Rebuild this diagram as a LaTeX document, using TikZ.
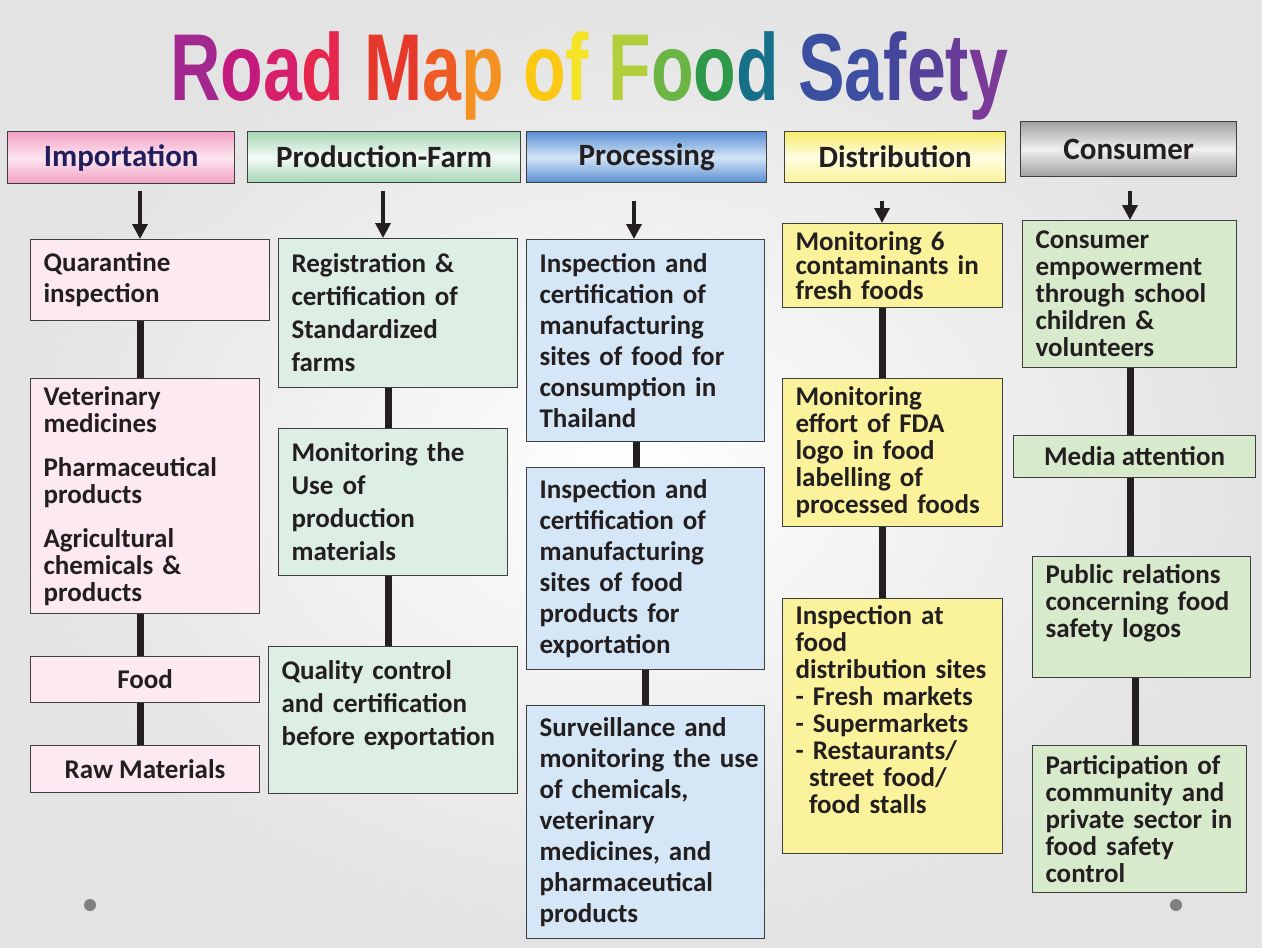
\documentclass[tikz,border=0pt]{standalone}
\usepackage{fontspec}
\usetikzlibrary{arrows.meta,positioning}
\newfontfamily\boxfont{Carlito}
\newfontfamily\titlefont{Liberation Sans}
\definecolor{ink}{HTML}{231F20}
\definecolor{navy}{HTML}{221E5C}
\definecolor{edge}{HTML}{3F3F3F}
\definecolor{pinkbox}{HTML}{FCE9F1}
\definecolor{farmbox}{HTML}{DDEFE4}
\definecolor{procbox}{HTML}{D5E6F6}
\definecolor{distbox}{HTML}{FBF39C}
\definecolor{consbox}{HTML}{D7EACB}
\definecolor{pinktop}{HTML}{F2A0C4}
\definecolor{pinkmid}{HTML}{FDE6F0}
\definecolor{farmtop}{HTML}{A5D6B5}
\definecolor{farmmid}{HTML}{F5FBF7}
\definecolor{proctop}{HTML}{5A8ED2}
\definecolor{procmid}{HTML}{D3E5F7}
\definecolor{disttop}{HTML}{F6ED6C}
\definecolor{distmid}{HTML}{FFFDE2}
\definecolor{constop}{HTML}{A0A0A0}
\definecolor{consmid}{HTML}{F0F0F0}
\definecolor{dotgray}{HTML}{808080}
\newcommand{\tl}[2]{\textcolor[HTML]{#1}{#2}}

\tikzset{
  head/.style={draw=edge, line width=1.4pt, anchor=north west, inner sep=0pt,
    font=\boxfont\bfseries\fontsize{31}{36}\selectfont, text=ink},
  stage/.style={draw=edge, line width=1.1pt, anchor=north west, inner xsep=0pt,
    inner ysep=0pt, align=left, text=ink, execute at begin node={\leftskip=13pt\relax}},
  tag/.style={draw=edge, line width=1.1pt, anchor=north west, inner sep=0pt,
    align=center, text=ink},
  lead24/.style={font=\boxfont\bfseries\fontsize{27}{24.5}\selectfont},
  lead27/.style={font=\boxfont\bfseries\fontsize{27}{27}\selectfont},
  lead31/.style={font=\boxfont\bfseries\fontsize{27}{31}\selectfont},
  lead33/.style={font=\boxfont\bfseries\fontsize{27}{33}\selectfont},
  link/.style={line width=7pt, draw=ink},
  feed/.style={line width=3.5pt, draw=ink, -{Triangle[length=15pt,width=15pt]}},
}

\begin{document}
\begin{tikzpicture}[x=1pt, y=-1pt]
\useasboundingbox (0,0) rectangle (1262,948);
\shade[inner color=white, outer color=gray!22] (0,0) rectangle (1262,948);

% title
\node[anchor=base, inner sep=0pt] (title) at (589,100) {\scalebox{0.735}[1]{\titlefont\bfseries\fontsize{95}{95}\selectfont
  \tl{A2278F}{R}\tl{C4197D}{o}\tl{D81F6B}{a}\tl{E6264F}{d} \tl{E7392B}{M}\tl{EE5B25}{a}\tl{F39222}{p}
  \tl{FBC914}{o}\tl{F4E425}{f} \tl{B2CE3B}{F}\tl{6CB545}{o}\tl{2E9A49}{o}\tl{17708A}{d}
  \tl{3B4FA1}{S}\tl{3E4EA0}{a}\tl{44469C}{f}\tl{55409A}{e}\tl{6A3C9A}{t}\tl{7B3A98}{y}}};

% column headers
\node[head, text=navy, minimum width=227, minimum height=52,
  top color=pinktop, bottom color=pinktop, middle color=pinkmid] (imp) at (7,131) {Importation};
\node[head, minimum width=273, minimum height=51,
  top color=farmtop, bottom color=farmtop, middle color=farmmid] (farm) at (247,131) {Production-Farm};
\node[head, minimum width=240, minimum height=51,
  top color=proctop, bottom color=proctop, middle color=procmid] (proc) at (526,131) {Processing};
\node[head, minimum width=221, minimum height=51,
  top color=disttop, bottom color=disttop!70!white, middle color=distmid] (dist) at (784,131) {Distribution};
\node[head, minimum width=216, minimum height=55,
  top color=constop, bottom color=constop, middle color=consmid] (cons) at (1020,121) {Consumer};

% column guides
\coordinate (ximp) at (140,0);
\coordinate (xfarm) at (388,0);
\coordinate (xfarmarrow) at (383,0);
\coordinate (xproc) at (636,0);
\coordinate (xprocb) at (645,0);
\coordinate (xprocarrow) at (634,0);
\coordinate (xdist) at (882,0);
\coordinate (xcons) at (1130,0);
\coordinate (xconsb) at (1135,0);

% importation
\node[stage, lead31, fill=pinkbox, text width=239, minimum height=81] (imp1) at (30,239)
  {Quarantine\\inspection};
\node[stage, lead27, fill=pinkbox, text width=229, minimum height=235] (imp2) at (30,378)
  {Veterinary\\medicines\\[17pt]Pharmaceutical\\products\\[17pt]Agricultural\\chemicals \&\\products};
\node[tag, lead31, fill=pinkbox, minimum width=229, minimum height=46] (imp3) at (30,656)
  {Food};
\node[tag, lead31, fill=pinkbox, minimum width=229, minimum height=47] (imp4) at (30,745)
  {Raw Materials};

% production-farm
\node[stage, lead33, fill=farmbox, text width=239, minimum height=149] (farm1) at (278,238)
  {Registration \&\\certification of\\Standardized\\farms};
\node[stage, lead33, fill=farmbox, text width=229, minimum height=147] (farm2) at (278,428)
  {Monitoring the\\Use of\\production\\materials};
\node[stage, lead33, fill=farmbox, text width=249, text height=33, text depth=114] (farm3) at (268,646)
  {Quality control\\and certification\\before exportation};

% processing
\node[stage, lead31, fill=procbox, text width=238, minimum height=202] (proc1) at (526,239)
  {Inspection and\\certification of\\manufacturing\\sites of food for\\consumption in\\Thailand};
\node[stage, lead31, fill=procbox, text width=238, minimum height=202] (proc2) at (526,467)
  {Inspection and\\certification of\\manufacturing\\sites of food\\products for\\exportation};
\node[stage, lead31, fill=procbox, text width=238, minimum height=233] (proc3) at (526,705)
  {Surveillance and\\monitoring the use\\of chemicals,\\veterinary\\medicines, and\\pharmaceutical\\products};

% distribution
\node[stage, lead24, fill=distbox, text width=220, minimum height=84] (dist1) at (782,223)
  {Monitoring 6\\contaminants in\\fresh foods};
\node[stage, lead27, fill=distbox, text width=220, minimum height=148] (dist2) at (782,378)
  {Monitoring\\effort of FDA\\logo in food\\labelling of\\processed foods};
\node[stage, lead27, fill=distbox, text width=220, text height=26, text depth=229] (dist3) at (782,598)
  {Inspection at\\food\\distribution sites\\- Fresh markets\\- Supermarkets\\- Restaurants/\\\hspace*{0.5em}street food/\\\hspace*{0.5em}food stalls};

% consumer
\node[stage, lead27, fill=consbox, text width=214, minimum height=147] (cons1) at (1022,220)
  {Consumer\\empowerment\\through school\\children \&\\volunteers};
\node[tag, lead27, fill=consbox, minimum width=242, minimum height=42] (cons2) at (1013,435)
  {Media attention};
\node[stage, lead27, fill=consbox, text width=218, text height=27, text depth=94] (cons3) at (1032,556)
  {Public relations\\concerning food\\safety logos};
\node[stage, lead27, fill=consbox, text width=214, minimum height=147] (cons4) at (1032,745)
  {Participation of\\community and\\private sector in\\food safety\\control};

% arrows from the headers
\draw[feed, shorten <=7pt] (imp.south -| ximp) -- (imp1.north -| ximp);
\draw[feed, shorten <=8pt] (farm.south -| xfarmarrow) -- (farm1.north -| xfarmarrow);
\draw[feed, shorten <=18pt] (proc.south -| xprocarrow) -- (proc1.north -| xprocarrow);
\draw[feed, shorten <=18pt] (dist.south -| xdist) -- (dist1.north -| xdist);
\draw[feed, shorten <=14pt] (cons.south -| xcons) -- (cons1.north -| xcons);

% links down each column
\draw[link] (imp1.south -| ximp) -- (imp2.north -| ximp);
\draw[link] (imp2.south -| ximp) -- (imp3.north -| ximp);
\draw[link] (imp3.south -| ximp) -- (imp4.north -| ximp);
\draw[link] (farm1.south -| xfarm) -- (farm2.north -| xfarm);
\draw[link] (farm2.south -| xfarm) -- (farm3.north -| xfarm);
\draw[link] (proc1.south -| xproc) -- (proc2.north -| xproc);
\draw[link] (proc2.south -| xprocb) -- (proc3.north -| xprocb);
\draw[link] (dist1.south -| xdist) -- (dist2.north -| xdist);
\draw[link] (dist2.south -| xdist) -- (dist3.north -| xdist);
\draw[link] (cons1.south -| xcons) -- (cons2.north -| xcons);
\draw[link] (cons2.south -| xcons) -- (cons3.north -| xcons);
\draw[link] (cons3.south -| xconsb) -- (cons4.north -| xconsb);

% slide dots
\fill[dotgray] (90,905) circle (6);
\fill[dotgray] (1176,905) circle (6);

\end{tikzpicture}
\end{document}
